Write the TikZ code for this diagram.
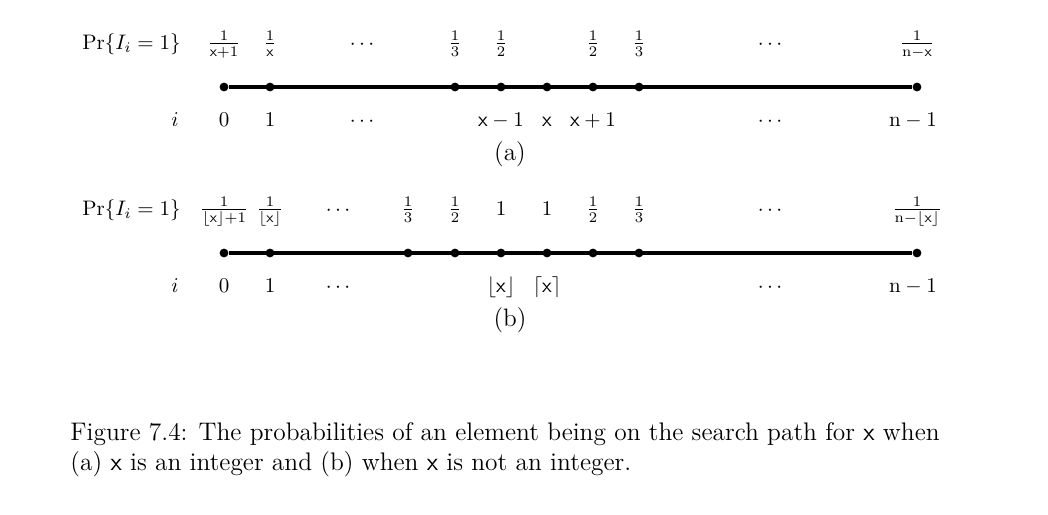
\documentclass[tikz,border=0pt]{standalone}
\begin{document}
\begin{tikzpicture}[x=0.476pt,y=-0.476pt,
    font=\fontsize{10}{12}\selectfont,
    punto/.style={circle,fill=black,inner sep=0pt,minimum size=4.2pt},
    asse/.style={line width=1.9pt},
    etic/.style={anchor=base,inner sep=0pt},
    didascalia/.style={anchor=base west,inner sep=0pt,font=\fontsize{12.1}{14.3}\selectfont}]

  \useasboundingbox (0,0) rectangle (1048,514);

  % ---- (a): x intero ---------------------------------------------------------
  \foreach \n/\px in {0/224,1/270,2/455,3/501,4/547,5/593,6/639,7/917}
    \node[punto] (a\n) at (\px,87) {};
  \draw[asse] (a0) -- (a7);

  \node[etic,anchor=base east] (pra) at (181,49) {$\Pr\{I_i=1\}$};
  \foreach \px/\t [count=\k] in {224/{$\frac{1}{\mathsf{x}+1}$},270/{$\frac{1}{\mathsf{x}}$},
      362/{$\cdots$},455/{$\frac{1}{3}$},501/{$\frac{1}{2}$},593/{$\frac{1}{2}$},
      639/{$\frac{1}{3}$},770/{$\cdots$},917/{$\frac{1}{\mathrm{n}-\mathsf{x}}$}}
    \node[etic] (sa\k) at (\px,49) {\t};

  \node[etic] (ia) at (175,126) {$i$};
  \foreach \px/\t [count=\k] in {224/{$0$},270/{$1$},362/{$\cdots$},501/{$\mathsf{x}-1$},
      547/{$\mathsf{x}$},593/{$\mathsf{x}+1$},770/{$\cdots$},913/{$\mathrm{n}-1$}}
    \node[etic] (ga\k) at (\px,126) {\t};

  \node[etic,font=\fontsize{12}{14}\selectfont] (tita) at (510,160) {(a)};

  % ---- (b): x non intero -----------------------------------------------------
  \foreach \n/\px in {0/224,1/270,2/408,3/455,4/501,5/547,6/593,7/639,8/917}
    \node[punto] (b\n) at (\px,253) {};
  \draw[asse] (b0) -- (b8);

  \node[etic,anchor=base east] (prb) at (181,215) {$\Pr\{I_i=1\}$};
  \foreach \px/\t [count=\k] in {224/{$\frac{1}{\lfloor\mathsf{x}\rfloor+1}$},
      270/{$\frac{1}{\lfloor\mathsf{x}\rfloor}$},338/{$\cdots$},408/{$\frac{1}{3}$},
      455/{$\frac{1}{2}$},501/{$1$},547/{$1$},593/{$\frac{1}{2}$},639/{$\frac{1}{3}$},
      770/{$\cdots$},917/{$\frac{1}{\mathrm{n}-\lfloor\mathsf{x}\rfloor}$}}
    \node[etic] (sb\k) at (\px,215) {\t};

  \node[etic] (ib) at (175,292) {$i$};
  \foreach \px/\t [count=\k] in {224/{$0$},270/{$1$},338/{$\cdots$},
      501/{$\lfloor\mathsf{x}\rfloor$},547/{$\lceil\mathsf{x}\rceil$},770/{$\cdots$},
      913/{$\mathrm{n}-1$}}
    \node[etic] (gb\k) at (\px,292) {\t};

  \node[etic,font=\fontsize{12}{14}\selectfont] (titb) at (510,326) {(b)};

  % ---- didascalia --------------------------------------------------------------
  \node[didascalia] (cap1) at (70,440)
    {Figure 7.4: The probabilities of an element being on the search path for $\mathsf{x}$ when};
  \node[didascalia] (cap2) at (70,470)
    {(a) $\mathsf{x}$ is an integer and (b) when $\mathsf{x}$ is not an integer.};

\end{tikzpicture}
\end{document}
